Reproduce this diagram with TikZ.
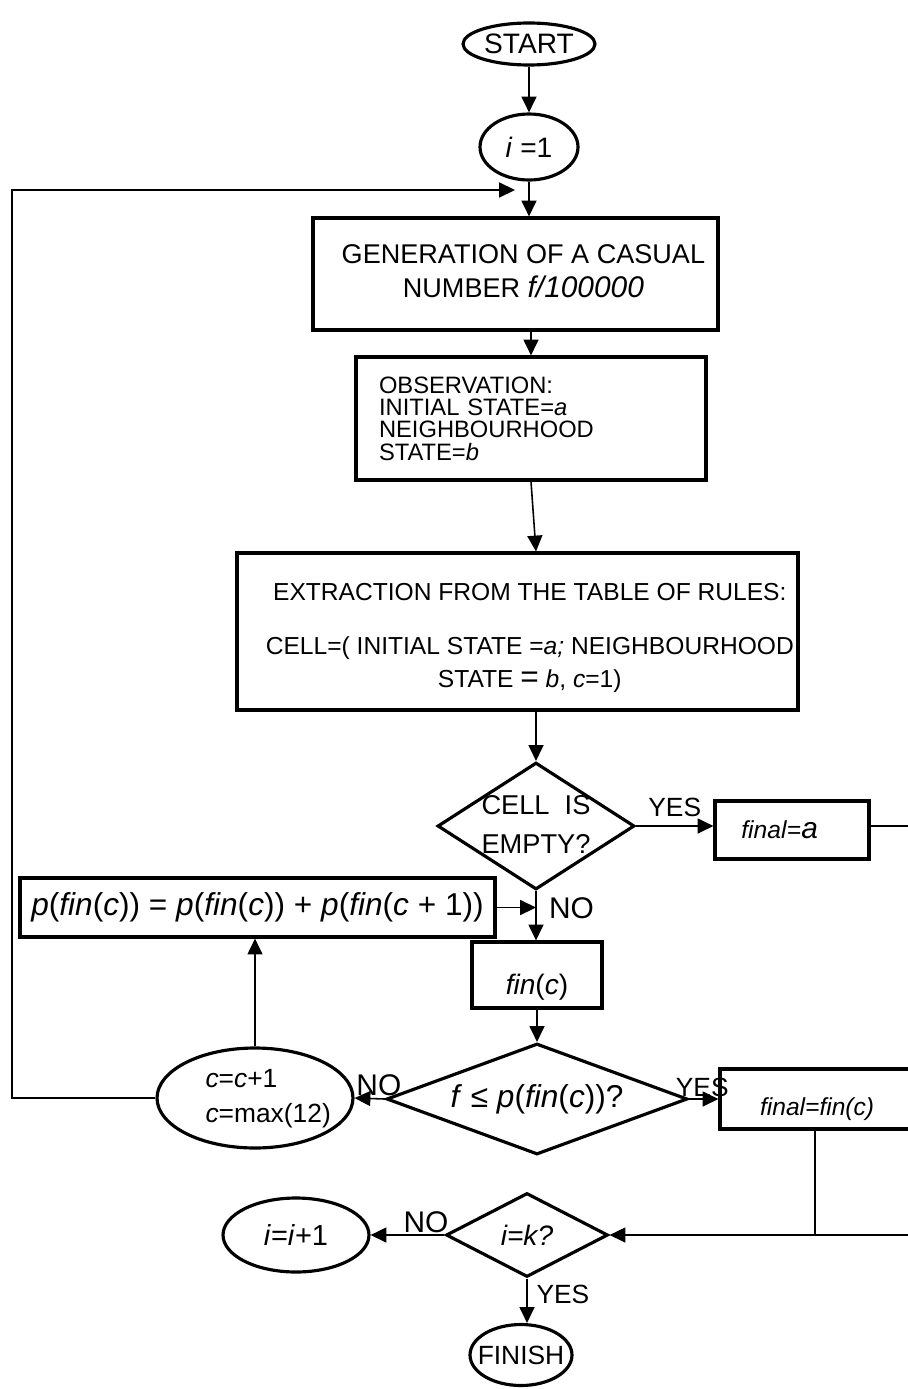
\documentclass[tikz,border=0pt]{standalone}
\usepackage{fontspec}
\setmainfont{Liberation Sans}
\usetikzlibrary{shapes.geometric,arrows.meta}
\newcommand{\nowidth}[1]{\makebox[0pt]{#1}}
\begin{document}
\begin{tikzpicture}[x=0.02cm,y=-0.02cm,
    box/.style={draw,line width=1.8pt,inner sep=0pt,align=center},
    oval/.style={draw,ellipse,line width=1.8pt,inner sep=0pt},
    test/.style={draw,diamond,line width=1.8pt,inner sep=0pt},
    arr/.style={line width=0.9pt,-{Triangle[length=9pt,width=8.5pt]}},
    link/.style={line width=0.9pt},
    yes/.style={font=\fontsize{15}{17}\selectfont,inner sep=1pt},
    no/.style={font=\fontsize{17}{19}\selectfont,inner sep=1pt}]
  \useasboundingbox (0,0) rectangle (908,1389);
  \clip (0,0) rectangle (908,1389);
  % main column
  \node[oval,minimum width=2.64cm,minimum height=0.84cm,font=\fontsize{16}{18}\selectfont]
    (start) at (529,44) {\nowidth{START}};
  \node[oval,minimum width=1.96cm,minimum height=1.32cm,font=\fontsize{16}{18}\selectfont]
    (ione) at (529,147) {\nowidth{\textit{i} =1}};
  \node[box,minimum width=8.1cm,minimum height=2.24cm,font=\fontsize{15.4}{19.3}\selectfont]
    (gen) at (515.5,274) {\begin{tabular}{@{\hspace{9pt}}c@{}}GENERATION OF A CASUAL\\
      NUMBER {\fontsize{17}{19}\selectfont\textit{f/100000}}\end{tabular}};
  \node[box,minimum width=7cm,minimum height=2.46cm,inner xsep=0.46cm,text width=6.08cm,
    align=left,font=\fontsize{13.5}{12.7}\selectfont]
    (obs) at (531,418.5) {OBSERVATION:\\INITIAL STATE=\textit{a}\\NEIGHBOURHOOD\\STATE=\textit{b}};
  \node[box,minimum width=11.22cm,minimum height=3.14cm,font=\fontsize{14}{18.8}\selectfont]
    (ext) at (517.5,631.5) {\raisebox{-3.4pt}[\height][\depth]{\begin{tabular}{@{\hspace{14pt}}c@{}}EXTRACTION FROM THE TABLE OF RULES:\\[12pt]
      CELL=( INITIAL STATE =\textit{a;} NEIGHBOURHOOD\\
      STATE {\fontsize{18}{18}\selectfont =} \textit{b}, \textit{c}=1)\end{tabular}}};
  \node[test,minimum width=3.94cm,minimum height=2.54cm,font=\fontsize{15.5}{22}\selectfont]
    (cellq) at (536,826) {\nowidth{\begin{tabular}{@{}c@{}}CELL\ \ IS\\EMPTY?\end{tabular}}};
  \node[box,minimum width=3.08cm,minimum height=1.16cm,font=\fontsize{14}{16}\selectfont]
    (finala) at (792,830) {\hspace{-14pt}\textit{final}=\textit{\fontsize{17}{18}\selectfont a}};
  \node[box,minimum width=9.5cm,minimum height=1.18cm,font=\fontsize{18}{20}\selectfont]
    (pbox) at (257.5,907.5) {\textit{p}(\textit{fin}(\textit{c})) = \textit{p}(\textit{fin}(\textit{c})) + \textit{p}(\textit{fin}(\textit{c} + 1))};
  \node[box,minimum width=2.6cm,minimum height=1.32cm,font=\fontsize{16}{18}\selectfont]
    (finc) at (537,975) {\raisebox{-7pt}[\height][\depth]{\textit{fin}(\textit{c})}};
  \node[test,minimum width=6.02cm,minimum height=2.22cm,font=\fontsize{18}{20}\selectfont]
    (fq) at (537,1099) {\nowidth{\textit{f} ≤ \textit{p}(\textit{fin}(\textit{c}))?}};
  \node[oval,minimum width=3.92cm,minimum height=2cm,font=\fontsize{15}{20}\selectfont]
    (cinc) at (255,1098) {\nowidth{\hspace{15pt}\begin{tabular}{@{}l@{}}\textit{c}=\textit{c}+1\\\textit{c}=max(12)\end{tabular}}};
  \node[box,minimum width=4.2cm,minimum height=1.2cm,font=\fontsize{14}{16}\selectfont]
    (finalc) at (825,1099) {\hspace{-9pt}\raisebox{-5.5pt}[\height][\depth]{\textit{final=fin(c)}}};
  \node[test,minimum width=3.24cm,minimum height=1.68cm,font=\fontsize{16}{18}\selectfont]
    (ikq) at (527,1235) {\nowidth{\textit{i=k?}}};
  \node[oval,minimum width=2.92cm,minimum height=1.48cm,font=\fontsize{16.5}{18}\selectfont]
    (iinc) at (296,1235) {\nowidth{\textit{i}=\textit{i}+1}};
  \node[oval,minimum width=2.04cm,minimum height=1.22cm,font=\fontsize{15}{17}\selectfont]
    (finish) at (521,1355) {\nowidth{FINISH}};
  \coordinate (loopin) at (515,190);
  \coordinate (join) at (815,1235);
  % connectors
  \draw[arr] (start.south) -- (ione.north);
  \draw[arr] (ione.south) -- (ione.south |- gen.north);
  \draw[arr] (gen.south -| obs.north) -- (obs.north);
  \draw[arr] (obs.south) -- (ext.north -| cellq.north);
  \draw[arr] (ext.south -| cellq.north) -- (cellq.north);
  \draw[arr] (cellq.east) -- node[yes,above,yshift=4pt] (yes1) {YES} (finala.west |- cellq.east);
  \draw[arr] (finala.east |- cellq.east) -- (930,826) |- (ikq.east);
  \draw[arr] (cellq.south) -- node[no,right,pos=0.35,xshift=6pt] (no1) {NO} (cellq.south |- finc.north);
  \draw[arr] (pbox.east) -- (pbox.east -| cellq.south);
  \draw[arr] (finc.south) -- (fq.north);
  \draw[arr] (fq.west) -- node[no,above,pos=0.2] (no2) {NO} (cinc.east);
  \draw[arr] (fq.east) -- node[yes,above,pos=0.45] (yes2) {YES} (finalc.west);
  \draw[arr] (cinc.north) -- (cinc.north |- pbox.south);
  \draw[arr] (cinc.west) -| (12,190) -- (loopin);
  \draw[link] (finalc.south -| join) -- (join);
  \draw[arr] (ikq.west) -- node[no,above,pos=0.25] (no3) {NO} (iinc.east);
  \draw[arr] (ikq.south) -- node[yes,right,pos=0.35,xshift=4pt] (yes3) {YES} (ikq.south |- finish.north);
\end{tikzpicture}
\end{document}
